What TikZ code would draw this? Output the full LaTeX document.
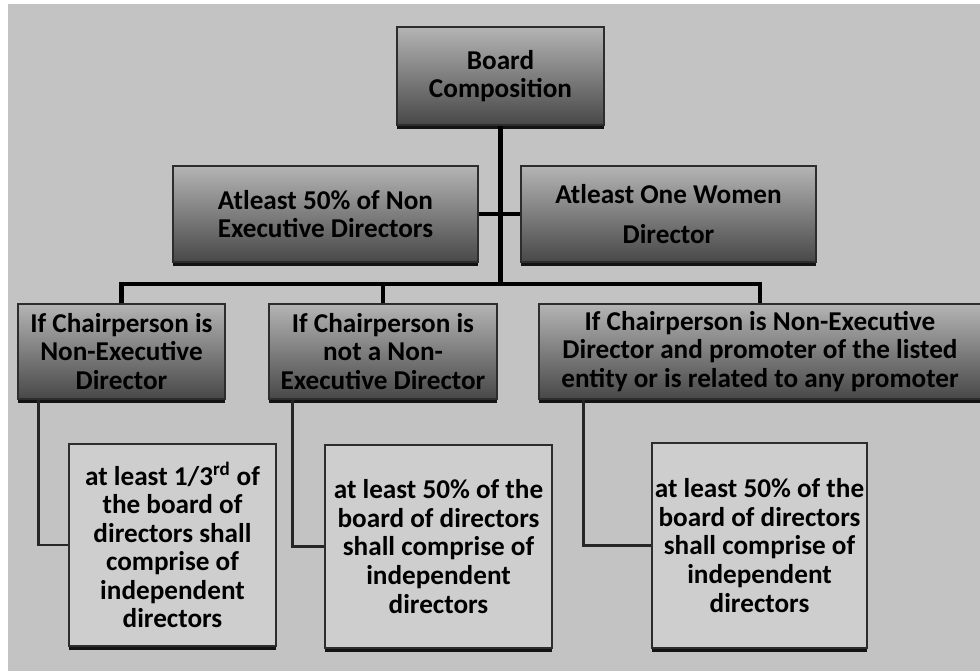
\documentclass[tikz,border=0pt]{standalone}
\usepackage{fontspec}
\setmainfont{Carlito}
\usetikzlibrary{shadows,calc}
\definecolor{bgc}{RGB}{195,195,195}
\definecolor{topc}{RGB}{180,180,180}
\definecolor{botc}{RGB}{72,72,72}
\definecolor{lowc}{RGB}{206,206,206}
\definecolor{edgec}{RGB}{45,45,45}
\tikzset{
  basebox/.style={draw=edgec, align=center, inner sep=0pt,
    font=\fontsize{20.4}{21.4}\selectfont\bfseries,
    drop shadow={shadow xshift=0pt, shadow yshift=-2.8pt, opacity=0.9, fill=black}},
  upbox/.style={basebox, top color=topc, bottom color=botc, line width=0.8pt},
  lowbox/.style={basebox, fill=lowc, line width=1.2pt},
  dims/.style 2 args={minimum width=#1*0.75pt, minimum height=#2*0.75pt},
  wire/.style={line width=3.4pt, black},
  sidewire/.style={line width=2.2pt, black!85}
}
\begin{document}
\begin{tikzpicture}[x=0.75pt, y=-0.75pt]
\useasboundingbox (0,0) rectangle (980,671);
\fill[white] (0,0) rectangle (980,671);
\fill[bgc] (8,4) rectangle (980,671);

\coordinate (bar) at (500,284);

\node[upbox, dims={207}{98}] (top) at (500.5,76) {Board\\Composition};
\node[upbox, dims={305}{96}] (midL) at (325.5,214) {Atleast 50\% of Non\\Executive Directors};
\node[upbox, dims={295}{96}] (midR) at (668.5,214) {Atleast One Women\\[9pt]Director};

\node[upbox, dims={207}{95}] (r1) at (121.5,351.5) {If Chairperson is\\Non-Executive\\Director};
\node[upbox, dims={228}{95}] (r2) at (383,351.5) {If Chairperson is\\not a Non-\\Executive Director};
\node[upbox, dims={442}{95}] (r3) at (760,351.5) {If Chairperson is Non-Executive\\Director and promoter of the listed\\entity or is related to any promoter};

\node[lowbox, dims={207}{202}] (a) at (172.5,545) {at least 1/3\textsuperscript{rd} of\\the board of\\directors shall\\comprise of\\independent\\directors};
\node[lowbox, dims={227}{203}] (b) at (438.5,546.5) {at least 50\% of the\\board of directors\\shall comprise of\\independent\\directors};
\node[lowbox, dims={215}{205}] (c) at (759.5,545.5) {at least 50\% of the\\board of directors\\shall comprise of\\independent\\directors};

\draw[wire] (top.south) -- (top.south |- bar);
\draw[wire] (midL.east) -- (midR.west);
\draw[wire] (r1.north) -- (r1.north |- bar) -- (r3.north |- bar) -- (r3.north);
\draw[wire] (r2.north) -- (r2.north |- bar);
\draw[sidewire] ($(r1.south west)+(21,0)$) |- (a.west);
\draw[sidewire] ($(r2.south west)+(24,0)$) |- (b.west);
\draw[sidewire] ($(r3.south west)+(45,0)$) |- (c.west);
\end{tikzpicture}
\end{document}
